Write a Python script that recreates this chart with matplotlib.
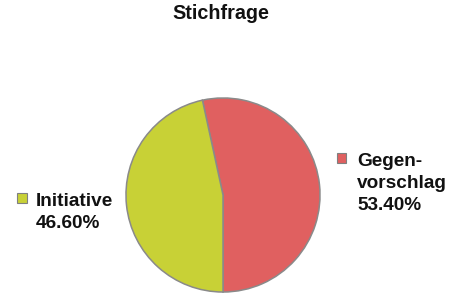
import matplotlib
matplotlib.use("Agg")
import matplotlib.pyplot as plt
from matplotlib.patches import Rectangle

plt.rcParams['font.family'] = ['Liberation Sans', 'DejaVu Sans']

title = "Stichfrage"
categories = ["Gegen-\nvorschlag", "Initiative"]
values = [53.40, 46.60]
colors = ["#E06060", "#C8D136"]

W, H = 452, 293
fig = plt.figure(figsize=(W / 100, H / 100), dpi=100)
fig.patch.set_facecolor("white")

cx, cy, r = 223, 195, 98
ax = fig.add_axes([(cx - r) / W, (H - cy - r) / H, 2 * r / W, 2 * r / H])
ax.pie(values, colors=colors, startangle=-90, counterclock=True,
       wedgeprops=dict(edgecolor="#8a8a8a", linewidth=1.1))
ax.set_xlim(-1.01, 1.01)
ax.set_ylim(-1.01, 1.01)
ax.set_aspect("equal")
ax.axis("off")

fig.text(221 / W, 1 - 4 / H, title, ha="center", va="top",
         fontsize=14.2, fontweight="bold", color="#111111")

# label positions (pixels): (square x, square y top, text x, text top)
label_pos = [(337, 153, 357, 152.5), (17, 193, 36, 192.5)]
for cat, val, col, (sx, sy, tx, ty) in zip(categories, values, colors, label_pos):
    fig.patches.append(Rectangle((sx / W, 1 - (sy + 9.5) / H), 9.5 / W, 9.5 / H,
                                 transform=fig.transFigure, facecolor=col,
                                 edgecolor="#808080", linewidth=0.8))
    fig.text(tx / W, 1 - ty / H, f"{cat}\n{val:.2f}%", ha="left", va="top",
             fontsize=13.7, fontweight="bold", color="#111111", linespacing=1.4)

fig.savefig("out.png", dpi=100, facecolor="white")
